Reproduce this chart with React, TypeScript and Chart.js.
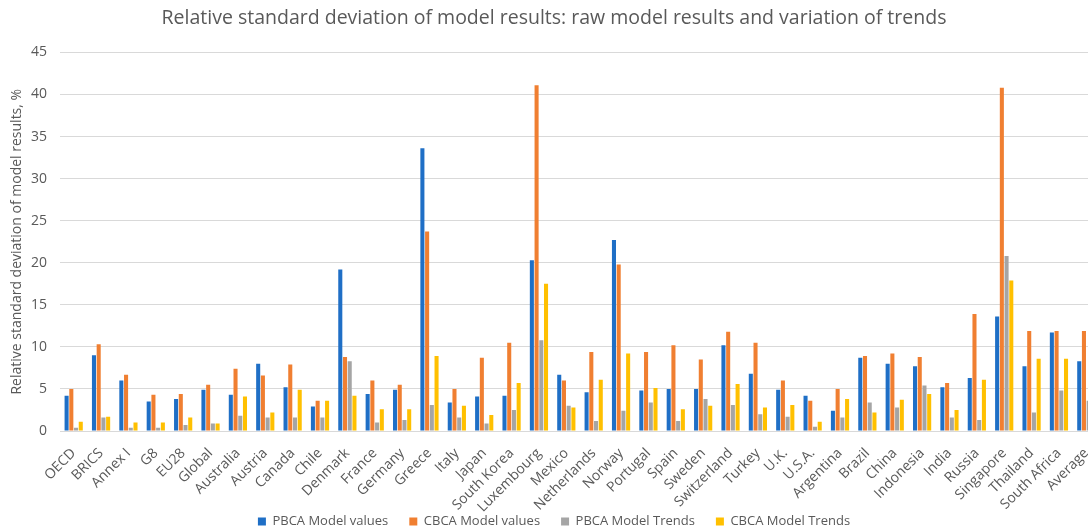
import React, { useEffect, useRef } from 'react';
import { Chart, registerables } from 'chart.js';

Chart.register(...registerables);

const categories = [
  'OECD', 'BRICS', 'Annex I', 'G8', 'EU28', 'Global', 'Australia', 'Austria', 'Canada', 'Chile',
  'Denmark', 'France', 'Germany', 'Greece', 'Italy', 'Japan', 'South Korea', 'Luxembourg', 'Mexico',
  'Netherlands', 'Norway', 'Portugal', 'Spain', 'Sweden', 'Switzerland', 'Turkey', 'U.K.', 'U.S.A.',
  'Argentina', 'Brazil', 'China', 'Indonesia', 'India', 'Russia', 'Singapore', 'Thailand',
  'South Africa', 'Average',
];

const pbcaValues = [
  4.2, 9.0, 6.0, 3.5, 3.8, 4.9, 4.3, 8.0, 5.2, 2.9, 19.2, 4.4, 4.9, 33.6, 3.4, 4.1, 4.2, 20.3, 6.7,
  4.6, 22.7, 4.8, 5.0, 5.0, 10.2, 6.8, 4.9, 4.2, 2.4, 8.7, 8.0, 7.7, 5.2, 6.3, 13.6, 7.7, 11.7, 8.3,
];
const cbcaValues = [
  5.0, 10.3, 6.7, 4.3, 4.4, 5.5, 7.4, 6.6, 7.9, 3.6, 8.8, 6.0, 5.5, 23.7, 5.0, 8.7, 10.5, 41.1, 6.0,
  9.4, 19.8, 9.4, 10.2, 8.5, 11.8, 10.5, 6.0, 3.6, 5.0, 8.9, 9.2, 8.8, 5.7, 13.9, 40.8, 11.9, 11.9, 11.9,
];
const pbcaTrends = [
  0.4, 1.6, 0.4, 0.4, 0.7, 0.9, 1.8, 1.6, 1.6, 1.6, 8.3, 1.0, 1.3, 3.1, 1.6, 0.9, 2.5, 10.8, 3.0,
  1.2, 2.4, 3.4, 1.2, 3.8, 3.1, 2.0, 1.7, 0.5, 1.6, 3.4, 2.8, 5.4, 1.6, 1.3, 20.8, 2.2, 4.8, 3.6,
];
const cbcaTrends = [
  1.1, 1.7, 1.0, 1.0, 1.6, 0.9, 4.1, 2.2, 4.9, 3.6, 4.2, 2.6, 2.6, 8.9, 3.0, 1.9, 5.7, 17.5, 2.8,
  6.1, 9.2, 5.1, 2.6, 3.0, 5.6, 2.8, 3.1, 1.1, 3.8, 2.2, 3.7, 4.4, 2.5, 6.1, 17.9, 8.6, 8.6, 5.5,
];

const seriesNames = ['PBCA Model values', 'CBCA Model values', 'PBCA Model Trends', 'CBCA Model Trends'];
const seriesColors = ['#1F6FC6', '#F07F31', '#A5A5A5', '#FFC000'];
const yMin = 0;
const yMax = 45;
const yStep = 5;

const FONT = '"Open Sans", "Noto Sans", sans-serif';
const TEXT = '#595959';

export default function App() {
  const ref = useRef<HTMLCanvasElement | null>(null);

  useEffect(() => {
    if (!ref.current) return;
    const data = [pbcaValues, cbcaValues, pbcaTrends, cbcaTrends];
    const chart = new Chart(ref.current, {
      type: 'bar',
      data: {
        labels: categories,
        datasets: seriesNames.map((name, i) => ({
          label: name,
          data: data[i],
          backgroundColor: seriesColors[i],
          borderWidth: 0,
          categoryPercentage: 0.69,
          barPercentage: 0.86,
        })),
      },
      options: {
        animation: false,
        responsive: true,
        maintainAspectRatio: false,
        layout: { padding: { top: 6, left: 8, right: 8, bottom: 0 } },
        plugins: {
          title: {
            display: true,
            text: 'Relative standard deviation of model results: raw model results and variation of trends',
            color: TEXT,
            font: { family: FONT, size: 19.5, weight: 'normal' },
            padding: { top: 1, bottom: 22 },
          },
          legend: {
            position: 'bottom',
            labels: {
              color: TEXT,
              font: { family: FONT, size: 13 },
              boxWidth: 8,
              boxHeight: 8,
              padding: 21,
            },
          },
          tooltip: { enabled: false },
        },
        scales: {
          x: {
            grid: { display: false },
            border: { display: true, color: '#D9D9D9', width: 1 },
            ticks: {
              color: TEXT,
              font: { family: FONT, size: 14 },
              maxRotation: 45,
              minRotation: 45,
              autoSkip: false,
              padding: 6,
            },
            afterFit: (s: any) => {
              s.height = 63;
              s._computeLabelArea = () => undefined;
            },
          },
          y: {
            min: yMin,
            max: yMax,
            grid: { color: '#D9D9D9', drawTicks: false, lineWidth: 1 },
            border: { display: false },
            ticks: {
              stepSize: yStep,
              color: TEXT,
              font: { family: FONT, size: 14 },
              padding: 13,
            },
            title: {
              display: true,
              text: 'Relative standard deviation of model results, %',
              color: TEXT,
              font: { family: FONT, size: 14 },
              padding: { top: 1, bottom: 2 },
            },
            afterFit: (s: any) => {
              s.width = 52;
            },
          },
        },
      },
    });
    return () => chart.destroy();
  }, []);

  return (
    <div style={{ position: 'fixed', left: 0, top: 0, width: 1088, height: 531, overflow: 'hidden', background: '#fff' }}>
      <div style={{ position: 'relative', width: 1108, height: 538 }}>
        <canvas ref={ref} />
      </div>
    </div>
  );
}
